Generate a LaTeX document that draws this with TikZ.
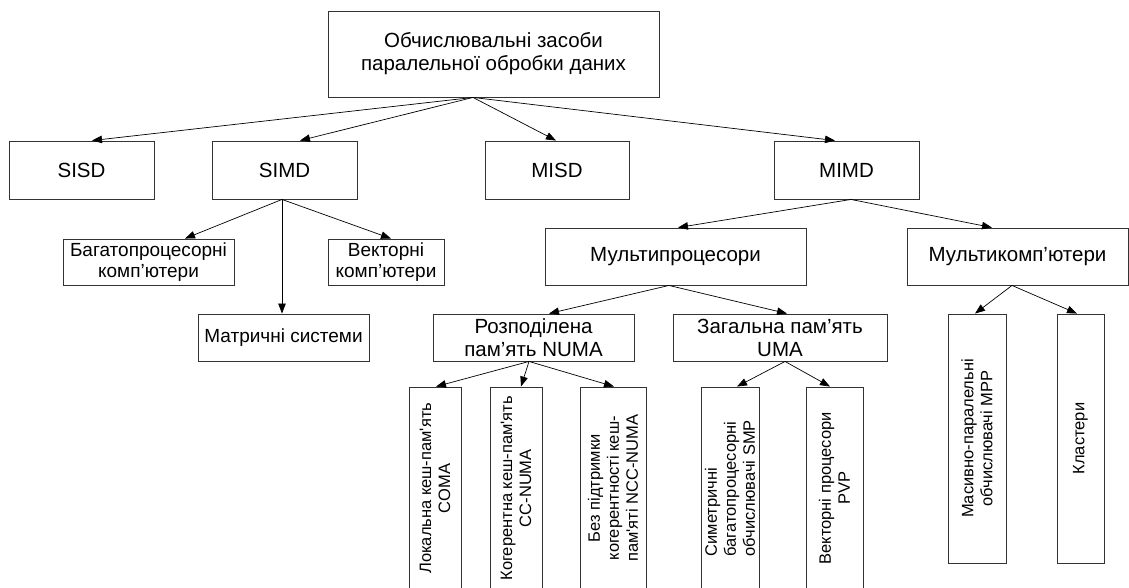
\documentclass[tikz,border=0pt]{standalone}
\usepackage{fontspec}
\newfontfamily\arial{Liberation Sans}
\usetikzlibrary{arrows.meta}
\begin{document}
\begin{tikzpicture}[x=1pt,y=1pt,
  box/.style={draw=black!80, line width=0.9pt, inner sep=0pt, align=center,
    font=\arial\fontsize{20.5}{23}\selectfont},
  sbox/.style={box, font=\arial\fontsize{19}{21}\selectfont},
  vbox/.style={box, rotate=90, font=\arial\fontsize{16.5}{19}\selectfont},
  arr/.style={-{Triangle[length=10pt,width=7.5pt]}, line width=0.7pt}]
\useasboundingbox (0,0) rectangle (1129,-588);
% level 0
\node[box, minimum width=331, minimum height=86] (top) at (493.5,-54) {Обчислювальні засоби\\паралельної обробки даних};
% level 1
\node[box, minimum width=145, minimum height=58] (sisd) at (81.5,-170) {SISD};
\node[box, minimum width=145, minimum height=58] (simd) at (284.5,-170) {SIMD};
\node[box, minimum width=144, minimum height=58] (misd) at (557,-170) {MISD};
\node[box, minimum width=145, minimum height=58] (mimd) at (846.5,-170) {MIMD};
% SIMD children
\node[sbox, minimum width=171, minimum height=46] (bag) at (148.5,-262) {Багатопроцесорні\\комп’ютери};
\node[sbox, minimum width=116, minimum height=46] (vec) at (386,-262) {Векторні\\комп’ютери};
\node[sbox, minimum width=171, minimum height=47] (mat) at (283.5,-337.5) {Матричні системи};
% MIMD children
\node[box, minimum width=261, minimum height=57] (mp) at (675.5,-256.5) {Мультипроцесори};
\node[box, minimum width=221, minimum height=57] (mc) at (1017.5,-256.5) {Мультикомп’ютери};
% memory
\node[box, minimum width=201, minimum height=47] (numa) at (533.5,-337.5) {Розподілена\\пам’ять NUMA};
\node[box, minimum width=214, minimum height=47] (uma) at (780,-337.5) {Загальна пам’ять\\UMA};
% vertical boxes
\node[vbox, minimum width=202.5, minimum height=52] (coma) at (435,-488.25) {Локальна кеш-пам'ять\\COMA};
\node[vbox, minimum width=202.5, minimum height=52] (ccnuma) at (516,-488.25) {Когерентна кеш-пам'ять\\CC-NUMA};
\node[vbox, minimum width=202.5, minimum height=66] (ncc) at (613,-488.25) {Без підтримки\\когерентності кеш-\\пам'яті NCC-NUMA};
\node[vbox, align=left, minimum width=202.5, minimum height=58] (smp) at (730,-488.25) {Симетричні\\багатопроцесорні\\обчислювачі SMP};
\node[vbox, minimum width=202.5, minimum height=57] (pvp) at (834.5,-488.25) {Векторні процесори\\PVP};
\node[vbox, minimum width=249, minimum height=58] (mpp) at (977,-438.5) {Масивно-паралельні\\обчислювачі МРР};
\node[vbox, minimum width=249, minimum height=47] (clu) at (1080.5,-438.5) {Кластери};
% connectors
\draw[arr] ([xshift=-20.5pt]top.south) -- ([xshift=10.5pt]sisd.north);
\draw[arr] ([xshift=-20.5pt]top.south) -- ([xshift=15.5pt]simd.north);
\draw[arr] ([xshift=-20.5pt]top.south) -- ([xshift=-1pt]misd.north);
\draw[arr] ([xshift=-20.5pt]top.south) -- ([xshift=-11.5pt]mimd.north);
\draw[arr] ([xshift=-2.5pt]simd.south) -- ([xshift=36.5pt]bag.north);
\draw[arr] ([xshift=-2.5pt]simd.south) -- ([xshift=-1.5pt]mat.north);
\draw[arr] ([xshift=-2.5pt]simd.south) -- ([xshift=5pt]vec.north);
\draw[arr] ([xshift=4.5pt]mimd.south) -- ([xshift=2.5pt]mp.north);
\draw[arr] ([xshift=4.5pt]mimd.south) -- ([xshift=-25.5pt]mc.north);
\draw[arr] ([xshift=-6.5pt]mp.south) -- ([xshift=15.5pt]numa.north);
\draw[arr] ([xshift=-6.5pt]mp.south) -- ([xshift=7pt]uma.north);
\draw[arr] ([xshift=-4.5pt]numa.south) -- ([xshift=1pt]coma.east);
\draw[arr] ([xshift=-4.5pt]numa.south) -- ([xshift=5pt]ccnuma.east);
\draw[arr] ([xshift=-4.5pt]numa.south) -- ([xshift=1pt]ncc.east);
\draw[arr] ([xshift=5pt]uma.south) -- ([xshift=7pt]smp.east);
\draw[arr] ([xshift=5pt]uma.south) -- ([xshift=-4.5pt]pvp.east);
\draw[arr] ([xshift=-5.5pt]mc.south) -- ([xshift=-2pt]mpp.east);
\draw[arr] ([xshift=-5.5pt]mc.south) -- ([xshift=-3.5pt]clu.east);
\end{tikzpicture}
\end{document}
